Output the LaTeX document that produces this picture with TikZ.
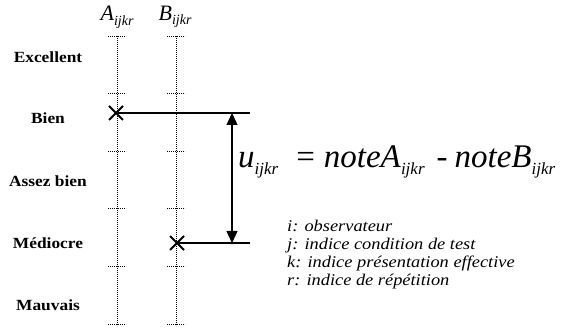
\documentclass[tikz,border=0pt]{standalone}
\usepackage{fontspec}
\setmainfont{Liberation Serif}
\newfontfamily\largeserif[FakeStretch=1.12]{Liberation Serif}
\usetikzlibrary{arrows.meta, positioning, calc}

\newcommand{\sousijkr}[1][17]{\raisebox{-0.45ex}{\fontsize{#1}{#1}\selectfont\itshape ijkr}}

\begin{document}
\begin{tikzpicture}[
  x=1pt, y=-1pt,
  every node/.style={inner sep=0pt},
  niveau/.style={font=\largeserif\fontsize{15.5}{17}\selectfont\bfseries},
  titre/.style={font=\fontsize{22}{24}\selectfont\itshape},
  axe/.style={line width=0.9pt, dash pattern=on 0.8pt off 1.2pt},
  trait/.style={line width=1.1pt},
  croix/.style={line width=2pt},
  fleche/.style={{Triangle[length=12pt,width=11pt]}-{Triangle[length=12pt,width=11pt]}, line width=1.4pt},
  note/.style={font=\largeserif\fontsize{16.4}{18}\selectfont\itshape, align=left, anchor=north west}
]
\useasboundingbox (0,0) rectangle (578,328);

% Echelle
\node[niveau] (exc) at (48,57) {Excellent};
\node[niveau] (bien) at (48,118) {Bien};
\node[niveau] (assez) at (48,181) {Assez bien};
\node[niveau] (medi) at (48,243) {Médiocre};
\node[niveau] (mauv) at (48,305) {Mauvais};

% Axes A et B
\node[titre] (titreA) at (117,17) {A\sousijkr[14]};
\node[titre] (titreB) at (175,17) {B\sousijkr[14]};
\foreach \xa in {117,176} {
  \draw[axe] (\xa,36) -- (\xa,326);
  \foreach \ya in {36,93.6,151.2,208.8,266.4,324}
    \draw[axe] (\xa-9,\ya) -- (\xa+9,\ya);
}

% Notes
\coordinate (noteA) at (116,113);
\coordinate (noteB) at (177,243);
\coordinate (finA) at (250,113);
\coordinate (finB) at (250,243);
\coordinate (flecheH) at (232,113);
\coordinate (flecheB) at (232,243);
\foreach \pt in {noteA,noteB}
  \draw[croix] ($(\pt)+(-7,-7)$) -- ($(\pt)+(7,7)$) ($(\pt)+(-7,7)$) -- ($(\pt)+(7,-7)$);
\draw[trait] (noteA) -- (finA);
\draw[trait] (noteB) -- (finB);
\draw[fleche] (flecheH) -- (flecheB);

% Ecart
\node[font=\fontsize{33}{35}\selectfont, anchor=base west] (ecart) at (238,168)
  {\textit{u}\sousijkr\hspace{18pt}=\hspace{9pt}\textit{noteA}\sousijkr\hspace{12pt}-\hspace{7pt}\textit{noteB}\sousijkr};

\node[note] (legende) at (287,220) {i: observateur\\j: indice condition de test\\k: indice présentation effective\\r: indice de répétition};

\end{tikzpicture}
\end{document}
